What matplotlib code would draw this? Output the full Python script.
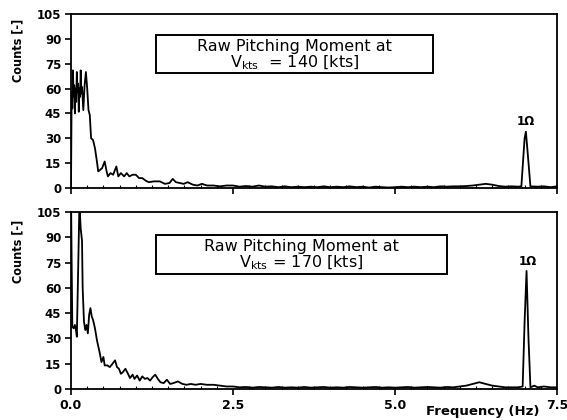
import matplotlib
matplotlib.use("Agg")
import matplotlib.pyplot as plt
from matplotlib.patches import Rectangle
from matplotlib.ticker import MultipleLocator

# ---------------- data ----------------
freq_top = [0.00, 0.01, 0.02, 0.03, 0.04, 0.05, 0.06, 0.07, 0.08, 0.09, 0.10,
            0.11, 0.12, 0.13, 0.14, 0.15, 0.16, 0.17, 0.19, 0.21, 0.23, 0.25,
            0.27, 0.29, 0.31, 0.34, 0.37, 0.40, 0.42, 0.45, 0.48, 0.52, 0.55,
            0.57, 0.61, 0.65, 0.70, 0.73, 0.77, 0.82, 0.86, 0.90, 0.95, 1.00,
            1.05, 1.10, 1.15, 1.20, 1.28, 1.37, 1.45, 1.52, 1.57, 1.62, 1.68,
            1.74, 1.80, 1.88, 1.95, 2.02, 2.10, 2.20, 2.30, 2.40, 2.50, 2.60,
            2.70, 2.80, 2.90, 3.00, 3.10, 3.20, 3.30, 3.40, 3.50, 3.60, 3.70,
            3.80, 3.90, 4.00, 4.10, 4.20, 4.30, 4.40, 4.50, 4.60, 4.70, 4.80,
            4.90, 5.00, 5.10, 5.20, 5.30, 5.40, 5.50, 5.60, 5.70, 5.80, 5.90,
            6.00, 6.10, 6.20, 6.30, 6.40, 6.50, 6.60, 6.70, 6.80, 6.90, 6.95,
            7.00, 7.02, 7.05, 7.09, 7.20, 7.30, 7.40, 7.50]
counts_top = [0, 58, 48, 71, 55, 62, 45, 60, 52, 70, 58,
              63, 46, 60, 55, 71, 57, 61, 47, 62, 70, 60,
              47, 44, 30, 29, 24, 16, 10, 11, 12, 16, 10,
              7, 9, 8, 13, 7, 9, 7, 9, 7, 8, 8,
              6, 6, 4.5, 3.5, 4, 4, 2.5, 3, 5.5, 3.5, 3,
              2.5, 3.5, 2, 1.5, 2.5, 1.5, 1.5, 1, 1.5, 1.5, 0.8,
              1.2, 0.8, 1.5, 0.8, 1, 0.5, 1, 0.5, 0.8, 0.5, 0.8,
              0.5, 1, 0.5, 0.8, 0.5, 1, 0.5, 0.8, 0.3, 0.8, 0.5,
              0.3, 0.5, 0.8, 0.5, 0.8, 0.5, 0.8, 0.5, 1, 0.8, 1,
              1, 1.2, 1.5, 2, 2.5, 2, 1.2, 0.8, 1, 0.8, 1,
              30, 34, 20, 1, 0.8, 1, 0.5, 1]

freq_bot = [0.00, 0.02, 0.04, 0.06, 0.08, 0.09, 0.11, 0.13, 0.15, 0.17, 0.18,
            0.20, 0.22, 0.24, 0.26, 0.28, 0.30, 0.32, 0.34, 0.37, 0.40, 0.44,
            0.47, 0.50, 0.52, 0.56, 0.60, 0.64, 0.68, 0.71, 0.74, 0.77, 0.80,
            0.84, 0.88, 0.91, 0.95, 0.98, 1.02, 1.06, 1.10, 1.14, 1.18, 1.22,
            1.26, 1.30, 1.34, 1.38, 1.43, 1.48, 1.53, 1.58, 1.65, 1.72, 1.78,
            1.85, 1.92, 2.00, 2.10, 2.20, 2.30, 2.40, 2.50, 2.60, 2.70, 2.80,
            2.90, 3.00, 3.10, 3.20, 3.30, 3.40, 3.50, 3.60, 3.70, 3.80, 3.90,
            4.00, 4.10, 4.20, 4.30, 4.40, 4.50, 4.60, 4.70, 4.80, 4.90, 5.00,
            5.10, 5.20, 5.30, 5.40, 5.50, 5.60, 5.70, 5.80, 5.90, 6.00, 6.10,
            6.20, 6.30, 6.40, 6.50, 6.60, 6.70, 6.80, 6.90, 6.97, 7.00, 7.03,
            7.06, 7.09, 7.15, 7.20, 7.30, 7.40, 7.50]
counts_bot = [115, 37, 36, 38, 34, 31, 70, 110, 95, 88, 60,
              40, 35, 38, 33, 44, 48, 43, 41, 36, 29, 22,
              16, 19, 14, 14, 13, 15, 17, 13, 12, 9, 10,
              12, 9, 6.5, 8.5, 6, 8, 5, 7.5, 6, 6.5, 5,
              7, 8.5, 6, 4, 3.5, 5.5, 3, 3.5, 4.5, 3, 2.5,
              3, 2.5, 3, 2.5, 2.5, 2, 1.5, 1.5, 1, 1.2, 0.8,
              1.2, 1, 0.8, 1.2, 0.8, 1, 0.8, 1.2, 0.8, 1, 1.2,
              0.8, 1, 0.8, 1.2, 1, 0.8, 1, 1.2, 0.8, 1, 0.8,
              1, 1.2, 0.8, 1, 1.2, 1, 0.8, 1.2, 1, 1.5, 2,
              3, 4, 3, 2, 1.5, 1, 1, 1, 1.5, 40, 70,
              30, 1, 2, 1, 1.5, 1, 1]

ytick_vals = [0, 15, 30, 45, 60, 75, 90, 105]
xtick_vals = [0.0, 2.5, 5.0, 7.5]
xtick_labels = ["0.0", "2.5", "5.0", "7.5"]
box_line1 = ["Raw Pitching Moment at", "Raw Pitching Moment at"]
box_line2 = [r"V$_{\mathregular{kts}}$  = 140 [kts]",
             r"V$_{\mathregular{kts}}$ = 170 [kts]"]
peak_label = "1Ω"
peak_label_pos = [(7.02, 36), (7.05, 72)]

# ---------------- figure ----------------
W, H = 567, 420
fig = plt.figure(figsize=(5.67, 4.2), dpi=100)
ax_top = fig.add_axes([71/W, 1-188/H, 486/W, 174/H])
ax_bot = fig.add_axes([71/W, 1-389/H, 486/W, 177/H])

series = [(ax_top, freq_top, counts_top), (ax_bot, freq_bot, counts_bot)]
# box extents in pixels: (x0, x1, y_top, y_bottom)
box_px = [(156, 433, 35, 73), (156, 447, 235, 274)]
counts_label_y = [50, 251]

for i, (ax, f, c) in enumerate(series):
    ax.plot(f, c, color="black", lw=1.3)
    ax.set_xlim(0, 7.5)
    ax.set_ylim(0, 105)
    ax.set_yticks(ytick_vals)
    ax.set_yticklabels([str(v) for v in ytick_vals], fontsize=8.5,
                       fontweight="bold")
    ax.set_xticks(xtick_vals)
    ax.xaxis.set_minor_locator(MultipleLocator(0.25))
    ax.tick_params(axis="both", which="major", direction="out", length=4,
                   width=1.2, pad=3)
    ax.tick_params(axis="x", which="minor", direction="in", length=2, width=0.8)
    for sp in ax.spines.values():
        sp.set_linewidth(1.3)
    ax.text(*peak_label_pos[i], peak_label, ha="center", va="bottom",
            fontsize=8.5, fontweight="bold")

    x0, x1, yt, yb = box_px[i]
    fig.add_artist(Rectangle((x0/W, 1-yb/H), (x1-x0)/W, (yb-yt)/H,
                             transform=fig.transFigure, fc="white",
                             ec="black", lw=1.4, zorder=3))
    xc = (x0 + x1) / 2 / W
    fig.text(xc, 1-(yt + 11)/H, box_line1[i], ha="center", va="center",
             fontsize=11.5, zorder=4)
    fig.text(xc, 1-(yt + 28)/H, box_line2[i], ha="center", va="center",
             fontsize=11.5, zorder=4)
    fig.text(18/W, 1 - counts_label_y[i]/H, "Counts [-]",
             rotation=90, ha="center", va="center", fontsize=9,
             fontweight="bold", fontstretch="condensed")

ax_top.set_xticklabels([])
ax_bot.set_xticklabels(xtick_labels, fontsize=9, fontweight="bold")
fig.text(483/W, 1-411/H, "Frequency (Hz)", ha="center", va="center",
         fontsize=9.5, fontweight="bold")

fig.savefig("out.png", dpi=100)
